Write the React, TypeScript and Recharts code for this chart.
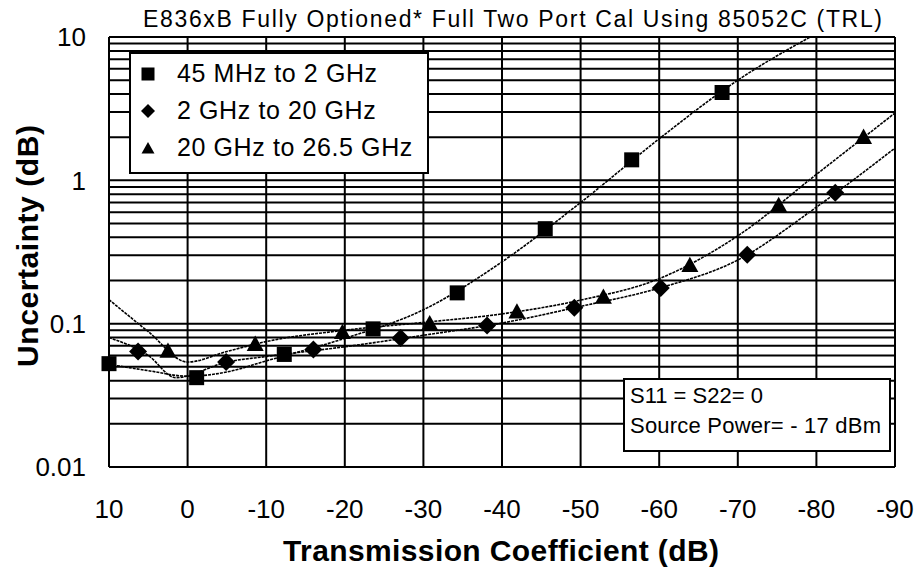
import { CartesianGrid, ComposedChart, Legend, Line, Scatter, XAxis, YAxis } from "recharts";

const FONT = "'Liberation Sans', Arial, sans-serif";

const seriesNames = ["45 MHz to 2 GHz", "2 GHz to 20 GHz", "20 GHz to 26.5 GHz"];

// measured points: transmission coefficient (dB) vs uncertainty (dB)
const lowBandPoints = [
  { x: 10, y: 0.0526 },
  { x: -1.15, y: 0.042 },
  { x: -12.3, y: 0.061 },
  { x: -23.6, y: 0.092 },
  { x: -34.3, y: 0.164 },
  { x: -45.5, y: 0.46 },
  { x: -56.5, y: 1.39 },
  { x: -68, y: 4.1 },
];
const midBandPoints = [
  { x: 6.3, y: 0.064 },
  { x: -4.9, y: 0.054 },
  { x: -16, y: 0.066 },
  { x: -27.1, y: 0.0795 },
  { x: -38.1, y: 0.097 },
  { x: -49.2, y: 0.129 },
  { x: -60.2, y: 0.177 },
  { x: -71.2, y: 0.303 },
  { x: -82.4, y: 0.82 },
];
const highBandPoints = [
  { x: 2.5, y: 0.065 },
  { x: -8.6, y: 0.0726 },
  { x: -19.7, y: 0.088 },
  { x: -30.8, y: 0.101 },
  { x: -41.9, y: 0.122 },
  { x: -52.9, y: 0.155 },
  { x: -63.9, y: 0.258 },
  { x: -75.2, y: 0.675 },
  { x: -86, y: 2.02 },
];

// fitted curves
const lowBandFit = [
  { x: 10, y: 0.052 },
  { x: 5, y: 0.047 },
  { x: 0, y: 0.043 },
  { x: -5, y: 0.046 },
  { x: -10, y: 0.055 },
  { x: -20, y: 0.079 },
  { x: -30, y: 0.125 },
  { x: -40, y: 0.27 },
  { x: -50, y: 0.7 },
  { x: -60, y: 1.95 },
  { x: -70, y: 5.0 },
  { x: -79.2, y: 10 },
];
const midBandFit = [
  { x: 10, y: 0.08 },
  { x: 5, y: 0.06 },
  { x: 1.5, y: 0.042 },
  { x: -5, y: 0.054 },
  { x: -10, y: 0.059 },
  { x: -20, y: 0.069 },
  { x: -30, y: 0.083 },
  { x: -40, y: 0.101 },
  { x: -50, y: 0.132 },
  { x: -60, y: 0.177 },
  { x: -70, y: 0.278 },
  { x: -80, y: 0.65 },
  { x: -90, y: 1.68 },
];
const highBandFit = [
  { x: 10, y: 0.147 },
  { x: 5, y: 0.088 },
  { x: 0, y: 0.054 },
  { x: -5, y: 0.064 },
  { x: -10, y: 0.075 },
  { x: -20, y: 0.09 },
  { x: -30, y: 0.102 },
  { x: -40, y: 0.117 },
  { x: -50, y: 0.146 },
  { x: -60, y: 0.206 },
  { x: -70, y: 0.41 },
  { x: -80, y: 1.1 },
  { x: -90, y: 2.95 },
];

const xTicks = [10, 0, -10, -20, -30, -40, -50, -60, -70, -80, -90];
const yTicks = [
  0.01, 0.02, 0.03, 0.04, 0.05, 0.06, 0.07, 0.08, 0.09,
  0.1, 0.2, 0.3, 0.4, 0.5, 0.6, 0.7, 0.8, 0.9,
  1, 2, 3, 4, 5, 6, 7, 8, 9, 10,
];

const isDecade = (v: number) => {
  const l = Math.log10(v);
  return Math.abs(l - Math.round(l)) < 1e-9;
};

const squareShape = (s: number) => (p: any) =>
  <rect x={p.cx - s / 2} y={p.cy - s / 2} width={s} height={s} fill="#000" />;
const diamondShape = (s: number) => (p: any) =>
  <polygon
    points={`${p.cx},${p.cy - s / 2} ${p.cx + s / 2},${p.cy} ${p.cx},${p.cy + s / 2} ${p.cx - s / 2},${p.cy}`}
    fill="#000"
  />;
const triangleShape = (s: number) => (p: any) =>
  <polygon
    points={`${p.cx},${p.cy - s * 0.47} ${p.cx + s / 2},${p.cy + s * 0.43} ${p.cx - s / 2},${p.cy + s * 0.43}`}
    fill="#000"
  />;

const markerShapes = [squareShape, diamondShape, triangleShape];
const legendSizes = [13, 14, 13];

function LegendBox() {
  return (
    <div
      style={{
        boxSizing: "border-box",
        width: 300,
        height: 122,
        border: "2px solid #000",
        background: "#fff",
        fontFamily: FONT,
        fontSize: 25,
        paddingTop: 1,
      }}
    >
      {seriesNames.map((name, i) => (
        <div key={name} style={{ height: 37, display: "flex", alignItems: "center" }}>
          <svg width={14} height={14} style={{ marginLeft: 10, marginRight: 22 }}>
            {markerShapes[i](legendSizes[i])({ cx: 7, cy: 7 })}
          </svg>
          <span style={{ letterSpacing: 0.6 }}>{name}</span>
        </div>
      ))}
    </div>
  );
}

export default function App() {
  return (
    <div style={{ position: "absolute", left: 0, top: 0, background: "#fff" }}>
      <ComposedChart
        width={914}
        height={569}
        margin={{ top: 37, right: 19, bottom: 0, left: 0 }}
        style={{ fontFamily: FONT }}
      >
        <CartesianGrid stroke="#000" strokeWidth={2} />
        <XAxis
          type="number"
          dataKey="x"
          domain={[-90, 10]}
          reversed
          ticks={xTicks}
          height={102}
          tickLine={false}
          axisLine={false}
          tickSize={0}
          tickMargin={33}
          tick={{ fill: "#000", fontSize: 26 }}
        />
        <YAxis
          type="number"
          dataKey="y"
          scale="log"
          domain={[0.01, 10]}
          ticks={yTicks}
          width={109}
          tickLine={false}
          axisLine={false}
          tickSize={0}
          tickMargin={23}
          interval={0}
          tick={{ fill: "#000", fontSize: 26 }}
          tickFormatter={(v: number) => (isDecade(v) ? String(v) : "")}
        />
        <Legend
          verticalAlign="middle"
          layout="horizontal"
          wrapperStyle={{ left: 129, top: 52, width: 300, height: 122 }}
          content={() => <LegendBox />}
        />
        <Line data={lowBandFit} dataKey="y" type="monotone" stroke="#000" strokeWidth={1.6}
          strokeDasharray="3 1" dot={false} legendType="none" isAnimationActive={false} />
        <Line data={midBandFit} dataKey="y" type="monotone" stroke="#000" strokeWidth={1.6}
          strokeDasharray="3 1" dot={false} legendType="none" isAnimationActive={false} />
        <Line data={highBandFit} dataKey="y" type="monotone" stroke="#000" strokeWidth={1.6}
          strokeDasharray="3 1" dot={false} legendType="none" isAnimationActive={false} />
        <Scatter name={seriesNames[0]} data={lowBandPoints} shape={squareShape(15)} isAnimationActive={false} />
        <Scatter name={seriesNames[1]} data={midBandPoints} shape={diamondShape(18)} isAnimationActive={false} />
        <Scatter name={seriesNames[2]} data={highBandPoints} shape={triangleShape(17)} isAnimationActive={false} />

        <text x={512.5} y={27} textAnchor="middle" fontSize={23} fontFamily={FONT}
          textLength={739} lengthAdjust="spacing" fill="#000">
          E836xB Fully Optioned* Full Two Port Cal Using 85052C (TRL)
        </text>
        <text x={501} y={561} textAnchor="middle" fontSize={30} fontWeight="bold" fontFamily={FONT}
          textLength={436} lengthAdjust="spacing" fill="#000">
          Transmission Coefficient (dB)
        </text>
        <text x={38} y={246} textAnchor="middle" fontSize={30} fontWeight="bold" fontFamily={FONT}
          textLength={242} lengthAdjust="spacing" fill="#000" transform="rotate(-90 38 246)">
          Uncertainty (dB)
        </text>
        <g>
          <rect x={624} y={379} width={266} height={72} fill="#fff" stroke="#000" strokeWidth={2} />
          <text x={630} y={403} fontSize={22} fontFamily={FONT} fill="#000">S11 = S22= 0</text>
          <text x={630} y={433} fontSize={22} fontFamily={FONT} fill="#000"
            textLength={251} lengthAdjust="spacing">Source Power= - 17 dBm</text>
        </g>
      </ComposedChart>
    </div>
  );
}
